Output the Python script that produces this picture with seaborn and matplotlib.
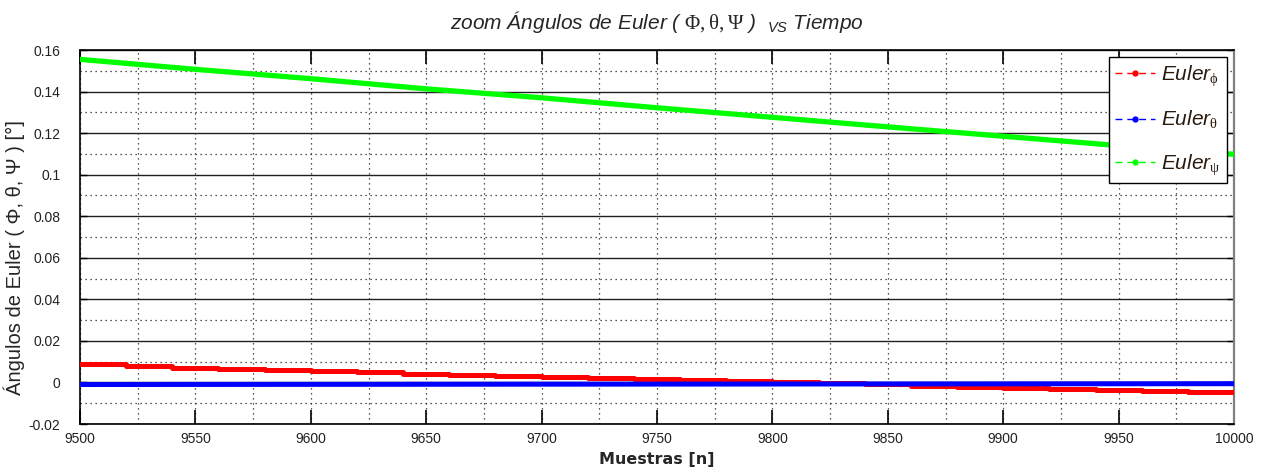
import numpy as np
import pandas as pd
import matplotlib
matplotlib.use("Agg")
import matplotlib.pyplot as plt
from matplotlib.lines import Line2D
from matplotlib.ticker import MultipleLocator
import seaborn as sns

# ---------------- data ----------------
psi_n = [9500, 9550, 9600, 9650, 9700, 9750, 9800, 9850, 9900, 9950, 10000]
psi_val = [0.1555, 0.1507, 0.1462, 0.1413, 0.1370, 0.1322, 0.1276, 0.1230, 0.1185, 0.1140, 0.1098]

phi_n = [9500, 9520, 9540, 9560, 9580, 9600, 9620, 9640, 9660, 9680, 9700, 9720, 9740,
         9760, 9780, 9800, 9820, 9840, 9860, 9880, 9900, 9920, 9940, 9960, 9980, 10000]
phi_val = [0.0087, 0.0078, 0.0070, 0.0063, 0.0058, 0.0053, 0.0048, 0.0043, 0.0038, 0.0032,
           0.0027, 0.0021, 0.0016, 0.0011, 0.0007, 0.0003, -0.0001, -0.0008, -0.0015, -0.0021,
           -0.0026, -0.0031, -0.0035, -0.0040, -0.0044, -0.0047]

theta_n = [9500, 9750, 10000]
theta_val = [-0.0010, -0.0008, -0.0006]

x_ticks = [9500, 9550, 9600, 9650, 9700, 9750, 9800, 9850, 9900, 9950, 10000]
y_ticks = [-0.02, 0, 0.02, 0.04, 0.06, 0.08, 0.1, 0.12, 0.14, 0.16]
y_tick_labels = ["-0.02", "0", "0.02", "0.04", "0.06", "0.08", "0.1", "0.12", "0.14", "0.16"]

labels = [r"$\mathit{Euler}_{\mathrm{\phi}}$", r"$\mathit{Euler}_{\mathrm{\theta}}$",
          r"$\mathit{Euler}_{\mathrm{\psi}}$"]
colors = ["#ff0000", "#0000ff", "#00ff00"]

# ---------------- style ----------------
sns.set_theme(style="white")
plt.rcParams["font.family"] = ["Liberation Sans", "DejaVu Sans"]
plt.rcParams["mathtext.fontset"] = "custom"
plt.rcParams["mathtext.rm"] = "Liberation Serif"
plt.rcParams["mathtext.it"] = "Liberation Sans:italic"
plt.rcParams["mathtext.bf"] = "Liberation Sans:bold"

fig = plt.figure(figsize=(12.65, 4.75), dpi=100)
ax = fig.add_axes([80 / 1265, 1 - 424 / 475, (1234 - 80) / 1265, (424 - 50) / 475])

df_psi = pd.DataFrame({"n": psi_n, "v": psi_val})
df_phi = pd.DataFrame({"n": phi_n, "v": phi_val})
df_theta = pd.DataFrame({"n": theta_n, "v": theta_val})

sns.lineplot(data=df_psi, x="n", y="v", ax=ax, color=colors[2], lw=3.8, zorder=3)
sns.lineplot(data=df_phi, x="n", y="v", ax=ax, color=colors[0], lw=3.6,
             drawstyle="steps-post", zorder=3)
sns.lineplot(data=df_theta, x="n", y="v", ax=ax, color=colors[1], lw=3.6, zorder=4)

ax.set_xlim(9500, 10000)
ax.set_ylim(-0.02, 0.16)
ax.set_xticks(x_ticks)
ax.set_xticklabels([str(t) for t in x_ticks])
ax.set_yticks(y_ticks)
ax.set_yticklabels(y_tick_labels)
ax.xaxis.set_minor_locator(MultipleLocator(25))
ax.yaxis.set_minor_locator(MultipleLocator(0.01))

# grid: solid horizontal majors, dotted minors, dotted verticals
ax.grid(False)
ax.grid(which="major", axis="y", color="#202020", lw=1.0, ls="-", zorder=1)
ax.grid(which="minor", axis="y", color="#202020", lw=0.9, ls=(0, (1, 3)), zorder=1)
ax.grid(which="both", axis="x", color="#202020", lw=0.9, ls=(0, (1, 3)), zorder=1)
ax.set_axisbelow(True)

ax.tick_params(axis="x", which="major", direction="in", length=10, width=1.2,
               top=True, bottom=True, labelsize=10, pad=6, colors="black")
ax.tick_params(axis="y", which="major", direction="in", length=5, width=1.0,
               left=True, right=True, labelsize=10, pad=14, colors="black")
ax.tick_params(which="minor", length=0)
for lab in ax.get_xticklabels() + ax.get_yticklabels():
    lab.set_color("#222222")

for s in ["left", "bottom", "top"]:
    ax.spines[s].set_color("black")
    ax.spines[s].set_linewidth(1.2)
ax.spines["right"].set_color("#808080")
ax.spines["right"].set_linewidth(1.6)

ax.set_xlabel("Muestras [n]", fontsize=11.5, fontweight="bold",
              family=["DejaVu Sans"], labelpad=4)
ax.set_ylabel("Ángulos de Euler ( Φ, θ, Ψ ) [°]", fontsize=14.5)
ax.yaxis.set_label_coords(-0.048, 0.445)
ax.set_title(r"zoom Ángulos de Euler ( $\mathrm{\Phi, \theta, \Psi}$ )  ${}_{\mathit{VS}}$ Tiempo",
             fontsize=15, style="italic", pad=15)

handles = [Line2D([], [], color=c, lw=1.0, ls=(0, (5, 3.5)), marker=".", markersize=7)
           for c in colors]
leg = ax.legend(handles, labels, loc="upper right", fontsize=15, frameon=True,
                fancybox=False, edgecolor="black", framealpha=1, handlelength=1.9,
                borderaxespad=0.35, labelspacing=1.0, handletextpad=0.3,
                borderpad=0.3)
leg.get_frame().set_linewidth(1.0)
for t in leg.get_texts():
    t.set_color("#2a1a0e")

fig.savefig("out.png", dpi=100, facecolor="white")
